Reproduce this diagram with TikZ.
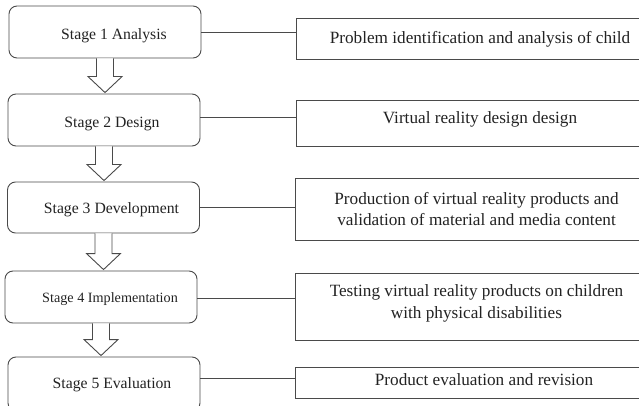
\documentclass[tikz,border=0pt]{standalone}
\usepackage{fontspec}
\setmainfont{Liberation Serif}
\usetikzlibrary{calc}
\definecolor{linegray}{HTML}{4A4A4A}
\definecolor{txt}{HTML}{222222}
\tikzset{
  stagebox/.style={draw=linegray, line width=0.9pt, rounded corners=8pt, minimum width=192pt, inner sep=0pt},
  descbox/.style={draw=linegray, line width=0.9pt, minimum width=368pt, inner sep=0pt},
  lefttxt/.style={text=txt, font=\fontsize{15.7}{19}\selectfont, inner sep=0pt},
  righttxt/.style={text=txt, font=\fontsize{17.2}{21.5}\selectfont, align=center, inner sep=0pt},
  link/.style={draw=linegray, line width=0.9pt},
  blockarrow/.style={draw=linegray, line width=0.9pt, fill=white, line join=miter}
}
\begin{document}
\begin{tikzpicture}[x=1pt,y=-1pt]
\useasboundingbox (0,0) rectangle (639,406);
% left stage boxes
\node[stagebox, minimum height=52pt] (s1) at (105,32) {};
\node[stagebox, minimum height=52pt] (s2) at (104,120) {};
\node[stagebox, minimum height=51pt] (s3) at (103.5,207.5) {};
\node[stagebox, minimum height=52pt] (s4) at (101,297) {};
\node[stagebox, minimum height=54pt] (s5) at (104,384) {};
% stage texts
\node[lefttxt] (t1) at ($(s1.center)+(9,4)$) {Stage 1 Analysis};
\node[lefttxt] (t2) at ($(s2.center)+(8,4)$) {Stage 2 Design};
\node[lefttxt] (t3) at ($(s3.center)+(8,2)$) {Stage 3 Development};
\node[lefttxt, font=\fontsize{14.2}{17}\selectfont] (t4) at ($(s4.center)+(9,2)$) {Stage 4 Implementation};
\node[lefttxt] (t5) at ($(s5.center)+(8,1)$) {Stage 5 Evaluation};
% right description boxes
\node[descbox, minimum height=41pt] (r1) at (480,38.5) {};
\node[descbox, minimum height=46pt] (r2) at (480,123) {};
\node[descbox, minimum height=62pt] (r3) at (479.5,209) {};
\node[descbox, minimum height=67pt] (r4) at (479.5,306.5) {};
\node[descbox, minimum height=31pt] (r5) at (479,382.5) {};
% description texts
\node[righttxt] (d1) at ($(r1.center)+(0,1)$) {Problem identification and analysis of child};
\node[righttxt] (d2) at ($(r2.center)+(0,-4)$) {Virtual reality design design};
\node[righttxt] (d3) at ($(r3.center)+(-3,0)$) {Production of virtual reality products and\\validation of material and media content};
\node[righttxt] (d4) at ($(r4.center)+(-3,-3)$) {Testing virtual reality products on children\\with physical disabilities};
\node[righttxt] (d5) at ($(r5.center)+(5,-3)$) {Product evaluation and revision};
% connectors
\draw[link] (s1.east) -- (s1.east -| r1.west);
\draw[link] ([yshift=3pt]s2.east) -- ([yshift=3pt]s2.east -| r2.west);
\draw[link] (s3.east) -- (s3.east -| r3.west);
\draw[link] ([yshift=-1pt]s4.east) -- ([yshift=-1pt]s4.east -| r4.west);
\draw[link] ([yshift=6pt]s5.east) -- ([yshift=6pt]s5.east -| r5.west);
% block arrows
\foreach \a/\b in {s1/s2,s2/s3,s3/s4,s4/s5}{
  \draw[blockarrow] let \p1=(\a.south), \p2=(\b.north) in
    (\x1-8.5pt,\y1) -- (\x1-8.5pt,\y2+17pt) -- (\x1-17pt,\y2+17pt) -- (\x1,\y2+1pt)
    -- (\x1+17pt,\y2+17pt) -- (\x1+8.5pt,\y2+17pt) -- (\x1+8.5pt,\y1);
}
\end{tikzpicture}
\end{document}
